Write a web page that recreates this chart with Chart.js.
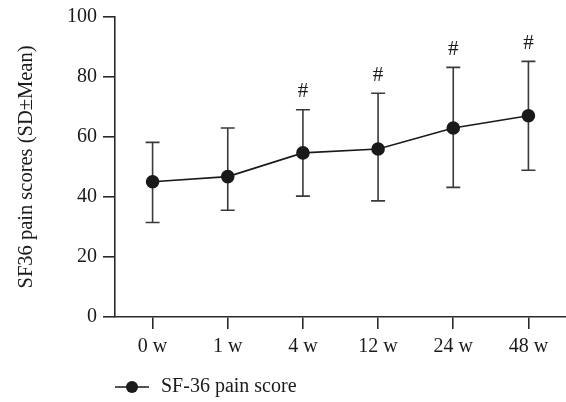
<!DOCTYPE html>
<html>
<head>
<meta charset="utf-8">
<script src="https://cdn.jsdelivr.net/npm/chart.js@4.4.1/dist/chart.umd.min.js"></script>
<style>
    html, body { margin: 0; padding: 0; background: #fff; overflow: hidden; }
    canvas { display: block; }
</style>
</head>
<body>
<canvas id="painChart" width="566" height="402"></canvas>
<script>
// data
const weeks = ['0 w', '1 w', '4 w', '12 w', '24 w', '48 w'];
const meanScore = [45.1, 46.8, 54.7, 56.0, 63.0, 67.1];
const upperSD = [58.2, 63.0, 69.1, 74.6, 83.2, 85.2];
const lowerSD = [31.5, 35.6, 40.3, 38.7, 43.2, 48.9];
const significant = [false, false, true, true, true, true];
const yTicks = [0, 20, 40, 60, 80, 100];
const seriesName = 'SF-36 pain score';
const yTitle = 'SF36 pain scores (SD\u00B1Mean)';

const FONT = 'Liberation Serif, Times New Roman, serif';
const INK = '#1a1a1a';
const AXIS = '#2a2a2a';

// error bars, drawn under the points
const errorBars = {
    id: 'errorBars',
    beforeDatasetsDraw(chart) {
        const { ctx, scales: { x, y } } = chart;
        ctx.save();
        ctx.strokeStyle = '#3a3a3a';
        ctx.lineWidth = 1.6;
        weeks.forEach((w, i) => {
            const px = x.getPixelForValue(i);
            const top = y.getPixelForValue(upperSD[i]);
            const bot = y.getPixelForValue(lowerSD[i]);
            ctx.beginPath();
            ctx.moveTo(px, top); ctx.lineTo(px, bot);
            ctx.moveTo(px - 7, top); ctx.lineTo(px + 7, top);
            ctx.moveTo(px - 7, bot); ctx.lineTo(px + 7, bot);
            ctx.stroke();
        });
        ctx.restore();
    },
    afterDraw(chart) {
        const { ctx, scales: { x, y } } = chart;
        ctx.save();
        ctx.fillStyle = INK;
        ctx.font = '21px ' + FONT;
        ctx.textAlign = 'center';
        ctx.textBaseline = 'alphabetic';
        weeks.forEach((w, i) => {
            if (!significant[i]) return;
            ctx.fillText('#', x.getPixelForValue(i), y.getPixelForValue(upperSD[i]) - 12.5);
        });

        // legend under the axis
        const ly = 387, lx = 115;
        ctx.font = '20px ' + FONT;
        ctx.strokeStyle = INK;
        ctx.lineWidth = 1.6;
        ctx.beginPath();
        ctx.moveTo(lx, ly); ctx.lineTo(lx + 34, ly);
        ctx.stroke();
        ctx.beginPath();
        ctx.arc(lx + 17, ly, 6, 0, Math.PI * 2);
        ctx.fill();
        ctx.textAlign = 'left';
        ctx.textBaseline = 'middle';
        ctx.fillText(seriesName, lx + 46, ly);
        ctx.restore();
    }
};

const ctx = document.getElementById('painChart').getContext('2d');

new Chart(ctx, {
    type: 'line',
    data: {
        labels: weeks,
        datasets: [{
            label: seriesName,
            data: meanScore,
            borderColor: INK,
            borderWidth: 1.6,
            backgroundColor: INK,
            pointBackgroundColor: INK,
            pointBorderColor: INK,
            pointRadius: 6,
            pointHoverRadius: 6,
            tension: 0,
            fill: false
        }]
    },
    options: {
        responsive: false,
        animation: false,
        layout: {
            autoPadding: false,
            padding: { top: 17, right: -3, bottom: 0, left: 0 }
        },
        scales: {
            x: {
                offset: true,
                grid: {
                    offset: false,
                    drawOnChartArea: false,
                    drawTicks: true,
                    tickLength: 12,
                    color: AXIS,
                    lineWidth: 1.6
                },
                border: { display: true, color: AXIS, width: 1.6 },
                ticks: {
                    color: INK,
                    padding: 6,
                    font: { family: FONT, size: 20 }
                },
                afterFit: scale => {
                    scale.height = 85;
                    scale.paddingLeft = 0;
                    scale.paddingRight = 0;
                }
            },
            y: {
                min: 0,
                max: 100,
                afterBuildTicks: scale => { scale.ticks = yTicks.map(v => ({ value: v })); },
                grid: {
                    drawOnChartArea: false,
                    drawTicks: true,
                    tickLength: 12,
                    color: AXIS,
                    lineWidth: 1.6
                },
                border: { display: true, color: AXIS, width: 1.6 },
                ticks: {
                    color: INK,
                    padding: 6,
                    font: { family: FONT, size: 20 }
                },
                title: {
                    display: true,
                    text: yTitle,
                    color: INK,
                    padding: { top: 14, bottom: 0 },
                    font: { family: FONT, size: 20.5 }
                },
                afterFit: scale => {
                    scale.width = 115;
                    scale.paddingTop = 0;
                    scale.paddingBottom = 0;
                }
            }
        },
        plugins: {
            legend: { display: false },
            tooltip: { enabled: false }
        }
    },
    plugins: [errorBars]
});
</script>
</body>
</html>
